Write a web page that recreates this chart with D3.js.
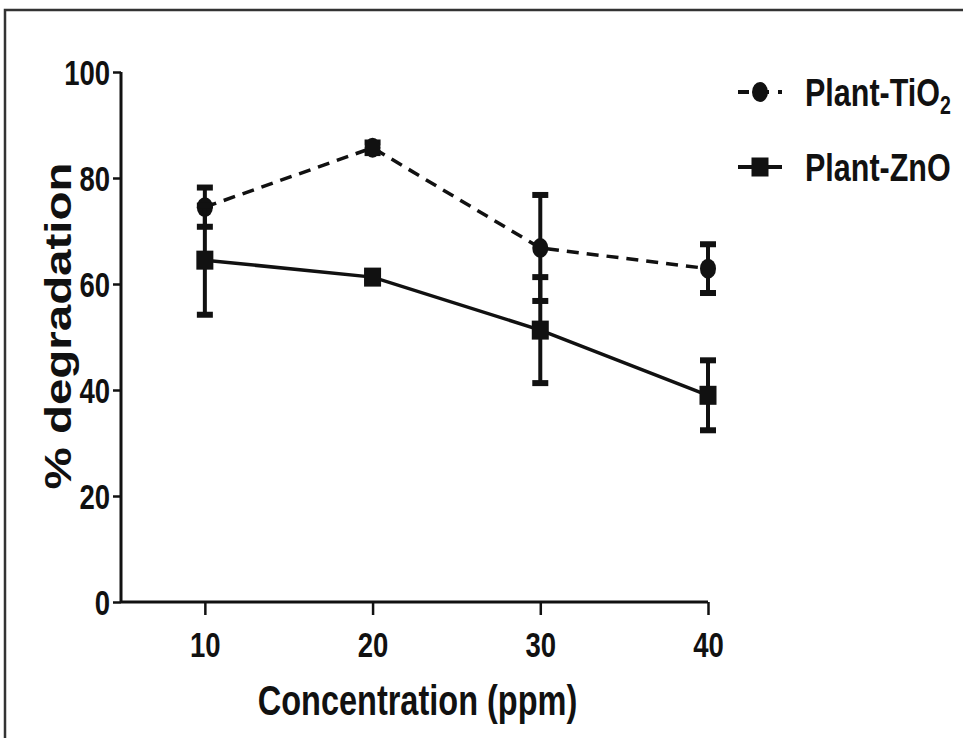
<!DOCTYPE html>
<html>
<head>
<meta charset="utf-8">
<script src="https://cdn.jsdelivr.net/npm/d3@7"></script>
<style>
  html, body { margin: 0; padding: 0; background: #fff; }
  svg { display: block; }
  text { font-family: "Liberation Sans", Arial, sans-serif; font-weight: bold; fill: #111; }
</style>
</head>
<body>
<svg id="chart" width="963" height="738"></svg>
<script>
// Concentrations (ppm) on the x axis
const concentrations = [10, 20, 30, 40];

// Plant-TiO2: mean % degradation and error (±)
const tio2Mean = [74.5, 85.7, 66.8, 62.9];
const tio2Err  = [3.7, 1.0, 10.0, 4.6];

// Plant-ZnO: mean % degradation and error (±)
const znoMean = [64.5, 61.3, 51.3, 39.0];
const znoErr  = [10.3, 0.8, 10.0, 6.6];

const yTicks = [0, 20, 40, 60, 80, 100];
const xTicks = [10, 20, 30, 40];

// the lettering is set tall: every glyph is stretched vertically
const SY = 1.3;

const svg = d3.select("#chart");

// outer frame (top and left edges)
svg.append("path")
  .attr("d", "M5,738 L5,10 L963,10")
  .attr("fill", "none")
  .attr("stroke", "#333")
  .attr("stroke-width", 2.5);

const plotLeft = 121, plotRight = 708, plotTop = 72, plotBottom = 602;

const x = d3.scaleLinear().domain([5, 40]).range([plotLeft, plotRight]);
const y = d3.scaleLinear().domain([0, 100]).range([plotBottom, plotTop]);

// y axis
const yAxis = svg.append("g")
  .attr("transform", `translate(${plotLeft},0)`)
  .call(d3.axisLeft(y).tickValues(yTicks).tickSize(8).tickPadding(4));
yAxis.select(".domain").attr("stroke", "#111").attr("stroke-width", 3)
  .attr("d", `M0,${plotTop}V${plotBottom}`);
yAxis.selectAll(".tick line").attr("stroke", "#111").attr("stroke-width", 2.5);
yAxis.selectAll(".tick text")
  .style("font-size", "27.5px")
  .attr("x", -11)
  .attr("dy", "0.36em")
  .attr("fill", "#111")
  .attr("transform", `scale(1,${SY})`);

// x axis
const xAxis = svg.append("g")
  .attr("transform", `translate(0,${plotBottom})`)
  .call(d3.axisBottom(x).tickValues(xTicks).tickSize(13).tickPadding(10));
xAxis.select(".domain").attr("stroke", "#111").attr("stroke-width", 3)
  .attr("d", `M${plotLeft},0H${plotRight}`);
xAxis.selectAll(".tick line").attr("stroke", "#111").attr("stroke-width", 2.5);
xAxis.selectAll(".tick text")
  .style("font-size", "27.5px")
  .attr("y", 23)
  .attr("fill", "#111")
  .attr("transform", `scale(1,${SY})`);

// axis titles
svg.append("text")
  .attr("transform", `translate(${(plotLeft + plotRight) / 2 + 3},715) scale(1,${SY})`)
  .attr("text-anchor", "middle")
  .style("font-size", "32.5px")
  .text("Concentration (ppm)");

svg.append("text")
  .attr("transform", `translate(71,326) scale(1,${SY}) rotate(-90)`)
  .attr("text-anchor", "middle")
  .style("font-size", "36.5px")
  .text("% degradation");

const seriesList = [
  { name: "TiO2", mean: tio2Mean, err: tio2Err, dash: "12,8", marker: "circle" },
  { name: "ZnO",  mean: znoMean,  err: znoErr,  dash: null,   marker: "square" }
];

const line = d3.line().x(d => x(d.c)).y(d => y(d.v));

function drawMarker(g, kind, cx, cy) {
  if (kind === "circle") {
    g.append("ellipse").attr("cx", cx).attr("cy", cy).attr("rx", 8).attr("ry", 10).attr("fill", "#111");
  } else {
    g.append("rect").attr("x", cx - 8.5).attr("y", cy - 9.5).attr("width", 17).attr("height", 19).attr("fill", "#111");
  }
}

seriesList.forEach(s => {
  const pts = concentrations.map((c, i) => ({ c, v: s.mean[i], e: s.err[i] }));
  const g = svg.append("g");

  // error bars
  pts.forEach(p => {
    const cx = x(p.c);
    g.append("line").attr("x1", cx).attr("x2", cx)
      .attr("y1", y(p.v - p.e)).attr("y2", y(p.v + p.e))
      .attr("stroke", "#111").attr("stroke-width", 4);
    [p.v - p.e, p.v + p.e].forEach(v => {
      g.append("rect").attr("x", cx - 8).attr("y", y(v) - 3)
        .attr("width", 16).attr("height", 6).attr("fill", "#111");
    });
  });

  g.append("path").datum(pts)
    .attr("d", line)
    .attr("fill", "none")
    .attr("stroke", "#111")
    .attr("stroke-width", 3.5)
    .attr("stroke-dasharray", s.dash);

  pts.forEach(p => drawMarker(g, s.marker, x(p.c), y(p.v)));
});

// legend
const legendRows = [
  { label: "Plant-TiO", sub: "2", dash: "11,9", marker: "circle", y: 92 },
  { label: "Plant-ZnO", sub: null, dash: null, marker: "square", y: 167 }
];
legendRows.forEach(r => {
  const g = svg.append("g");
  g.append("line").attr("x1", 738).attr("x2", 782).attr("y1", r.y).attr("y2", r.y)
    .attr("stroke", "#111").attr("stroke-width", 4)
    .attr("stroke-dasharray", r.dash);
  drawMarker(g, r.marker, 760, r.y);
  const t = g.append("text")
    .attr("transform", `translate(805,${r.y + 14}) scale(1,${SY})`)
    .style("font-size", "30.5px");
  t.append("tspan").text(r.label);
  if (r.sub) t.append("tspan").attr("dy", 6).style("font-size", "19.5px").text(r.sub);
});
</script>
</body>
</html>
